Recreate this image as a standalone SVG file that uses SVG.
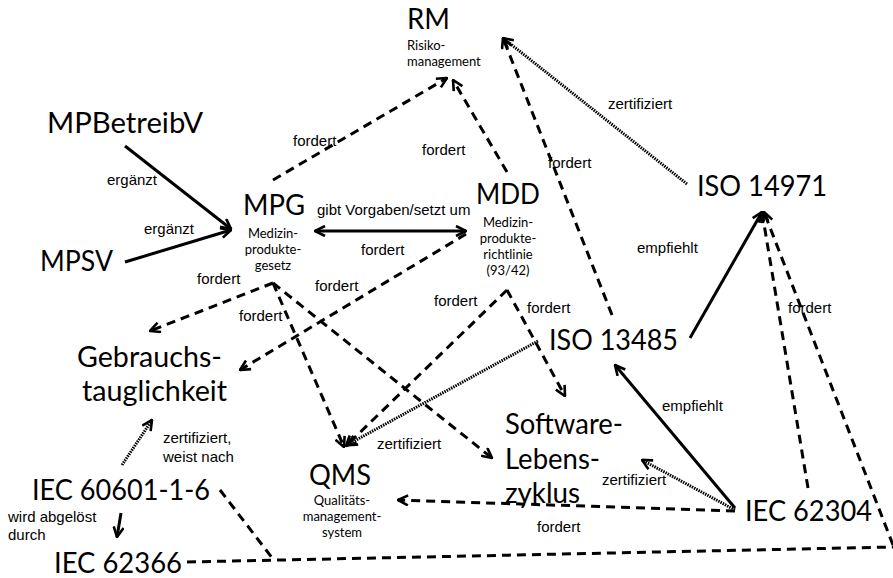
<svg xmlns="http://www.w3.org/2000/svg" width="893" height="578" viewBox="0 0 893 578">
<style>
.big{font-family:Lato,"Open Sans","Liberation Sans",sans-serif;font-size:29px;fill:#000}
.sub{font-family:Lato,"Open Sans","Liberation Sans",sans-serif;font-size:13px;fill:#000}
.lbl{font-family:"Liberation Sans",Arial,sans-serif;font-size:15px;fill:#000}
.c{fill:none;stroke:#000;stroke-width:3}
.dash{stroke-dasharray:9 6}
.dot{stroke-width:3;stroke-dasharray:1.5 1}
.arr{marker-end:url(#ah)}
</style>
<defs>
<marker id="ah" viewBox="0 0 12 12" refX="11" refY="6" markerWidth="12" markerHeight="12" markerUnits="userSpaceOnUse" orient="auto-start-reverse">
<path d="M1,1 L11,6 L1,11" fill="none" stroke="#000" stroke-width="2.6"/>
</marker>
</defs>
<rect width="893" height="578" fill="#fff"/>
<g id="connectors">
<path class="c arr" d="M125,146 L231,229"/>
<path class="c arr" d="M125,262 L231,230"/>
<path class="c arr" style="marker-start:url(#ah)" d="M315,231 L466,231"/>
<path class="c dash arr" d="M273,180 L447,78"/>
<path class="c dash arr" d="M507,172 L453,80"/>
<path class="c dash arr" d="M612,315 L503,38"/>
<path class="c dot arr" d="M687,184 L503,38"/>
<path class="c dash arr" d="M273,283 L150,331"/>
<path class="c dash arr" d="M273,283 L344,447"/>
<path class="c dash arr" d="M273,283 L492,458"/>
<path class="c dash arr" d="M466,234 L240,370"/>
<path class="c dash arr" d="M507,290 L346,446"/>
<path class="c dash arr" d="M507,290 L565,396"/>
<path class="c dot arr" d="M538,341 L347,445"/>
<path class="c arr" d="M690,338 L762,212"/>
<path class="c dash arr" d="M808,488 L762,212"/>
<path class="c dash arr" d="M893,545 L764,212"/>
<path class="c arr" d="M735,508 L615,365"/>
<path class="c dot arr" d="M735,510 L642,460"/>
<path class="c dash arr" d="M735,511 L398,500"/>
<path class="c dot arr" d="M122,465 L152,420"/>
<path class="c arr" d="M121,513 L117,537"/>
<path class="c dash" d="M220,490 L273,559"/>
<path class="c dash" d="M187,562 L893,547"/>
</g>
<g id="labels">
<text class="lbl" x="293" y="146">fordert</text>
<text class="lbl" x="422" y="155">fordert</text>
<text class="lbl" x="548" y="168">fordert</text>
<text class="lbl" x="608" y="109">zertifiziert</text>
<text class="lbl" x="107" y="185">ergänzt</text>
<text class="lbl" x="144" y="234">ergänzt</text>
<text class="lbl" x="317" y="215">gibt Vorgaben/setzt um</text>
<text class="lbl" x="361" y="255">fordert</text>
<text class="lbl" x="197" y="284">fordert</text>
<text class="lbl" x="315" y="291">fordert</text>
<text class="lbl" x="239" y="321">fordert</text>
<text class="lbl" x="434" y="306">fordert</text>
<text class="lbl" x="527" y="313">fordert</text>
<text class="lbl" x="637" y="253">empfiehlt</text>
<text class="lbl" x="788" y="313">fordert</text>
<text class="lbl" x="662" y="411">empfiehlt</text>
<text class="lbl" x="377" y="449">zertifiziert</text>
<text class="lbl" x="602" y="485">zertifiziert</text>
<text class="lbl" x="537" y="532">fordert</text>
<text class="lbl" x="163" y="443">zertifiziert,</text>
<text class="lbl" x="163" y="462">weist nach</text>
<text class="lbl" x="8" y="522">wird abgelöst</text>
<text class="lbl" x="8" y="540">durch</text>
</g>
<g id="RM">
<text class="big" x="407" y="29" textLength="43" lengthAdjust="spacingAndGlyphs">RM</text>
<text class="sub" x="407" y="50">Risiko-</text>
<text class="sub" x="407" y="66">management</text>
</g>
<g id="MPBetreibV"><text class="big" x="47" y="133" textLength="156" lengthAdjust="spacingAndGlyphs">MPBetreibV</text></g>
<g id="MPSV"><text class="big" x="40" y="271" textLength="73" lengthAdjust="spacingAndGlyphs">MPSV</text></g>
<g id="MPG">
<text class="big" x="243" y="215" textLength="62" lengthAdjust="spacingAndGlyphs">MPG</text>
<text class="sub" text-anchor="middle" x="273" y="238">Medizin-</text>
<text class="sub" text-anchor="middle" x="273" y="254">produkte-</text>
<text class="sub" text-anchor="middle" x="273" y="270">gesetz</text>
</g>
<g id="MDD">
<text class="big" x="476" y="204" textLength="64" lengthAdjust="spacingAndGlyphs">MDD</text>
<text class="sub" text-anchor="middle" x="508" y="227">Medizin-</text>
<text class="sub" text-anchor="middle" x="508" y="243">produkte-</text>
<text class="sub" text-anchor="middle" x="508" y="259">richtlinie</text>
<text class="sub" text-anchor="middle" x="508" y="275">(93/42)</text>
</g>
<g id="Gebrauchstauglichkeit">
<text class="big" x="77" y="367" textLength="145" lengthAdjust="spacingAndGlyphs">Gebrauchs-</text>
<text class="big" x="82" y="401" textLength="145" lengthAdjust="spacingAndGlyphs">tauglichkeit</text>
</g>
<g id="IEC60601"><text class="big" x="32" y="500" textLength="178" lengthAdjust="spacingAndGlyphs">IEC 60601-1-6</text></g>
<g id="IEC62366"><text class="big" x="54" y="573" textLength="128" lengthAdjust="spacingAndGlyphs">IEC 62366</text></g>
<g id="QMS">
<text class="big" x="309" y="485" textLength="62" lengthAdjust="spacingAndGlyphs">QMS</text>
<text class="sub" text-anchor="middle" x="342" y="505">Qualitäts-</text>
<text class="sub" text-anchor="middle" x="342" y="521">management-</text>
<text class="sub" text-anchor="middle" x="342" y="537">system</text>
</g>
<g id="Software">
<text class="big" x="505" y="434" textLength="118" lengthAdjust="spacingAndGlyphs">Software-</text>
<text class="big" x="505" y="469" textLength="95" lengthAdjust="spacingAndGlyphs">Lebens-</text>
<text class="big" x="505" y="503" textLength="75" lengthAdjust="spacingAndGlyphs">zyklus</text>
</g>
<g id="ISO13485"><text class="big" x="549" y="350" textLength="129" lengthAdjust="spacingAndGlyphs">ISO 13485</text></g>
<g id="ISO14971"><text class="big" x="697" y="196" textLength="130" lengthAdjust="spacingAndGlyphs">ISO 14971</text></g>
<g id="IEC62304"><text class="big" x="745" y="521" textLength="127" lengthAdjust="spacingAndGlyphs">IEC 62304</text></g>
</svg>
